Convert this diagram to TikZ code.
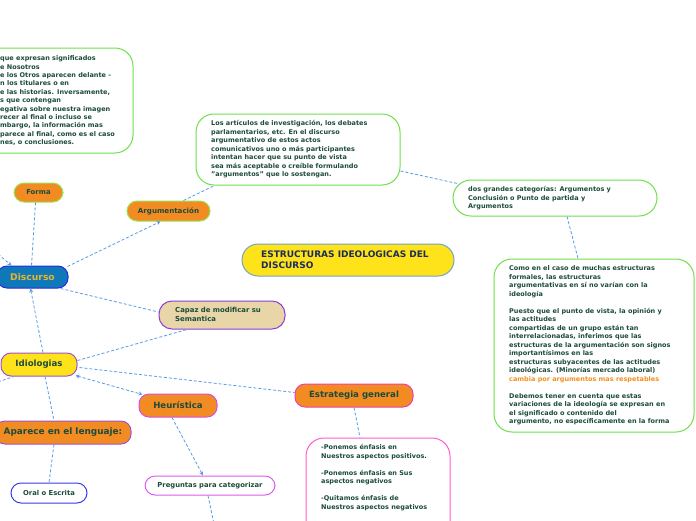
\documentclass[tikz,border=0pt]{standalone}
\usepackage{fontspec}
\setmainfont{DejaVu Sans}
\usetikzlibrary{calc,arrows.meta}
\definecolor{lnkc}{HTML}{5A9BE6}
\definecolor{txtc}{HTML}{1B4B3B}
\definecolor{orng}{HTML}{F28C22}
\definecolor{grn}{HTML}{6FE04A}
\definecolor{lgrn}{HTML}{9BE255}
\definecolor{yel}{HTML}{FFE31A}
\definecolor{dblue}{HTML}{0E78B8}
\definecolor{dbord}{HTML}{2A2AE0}
\definecolor{gold}{HTML}{E8B52E}
\definecolor{navy}{HTML}{1C2C5C}
\definecolor{sky}{HTML}{6FA3CF}
\definecolor{tan}{HTML}{E8D5A8}
\definecolor{purp}{HTML}{8A3DDB}
\definecolor{mauve}{HTML}{A052D0}
\definecolor{magen}{HTML}{D24FE0}
\definecolor{pink}{HTML}{F03DB0}
\definecolor{blu}{HTML}{3A3AEE}
\definecolor{lmag}{HTML}{DD5CF0}
\definecolor{lpink}{HTML}{FF5CCF}
\definecolor{orangetxt}{HTML}{F39020}
\tikzset{
  lnk/.style={draw=lnkc, dash pattern=on 3pt off 2pt, line width=0.8pt},
  tipend/.style={-{Stealth[length=4pt,width=4pt]}},
  tipboth/.style={{Stealth[length=4pt,width=4pt]}-{Stealth[length=4pt,width=4pt]}},
  pill/.style={rounded corners=10pt, draw, line width=1pt, inner sep=0pt, text=txtc, font=\bfseries\fontsize{8.6}{10}\selectfont},
  tbox/.style={rounded corners=18pt, draw, fill=white, line width=1pt, inner sep=0pt},
  btxt/.style={anchor=north west, inner sep=0pt, align=left, text=txtc, font=\bfseries\fontsize{6.5}{8.5}\selectfont},
}
\begin{document}
\begin{tikzpicture}[x=1pt,y=-1pt]
\useasboundingbox (0,0) rectangle (696,520);
\clip (0,0) rectangle (696,520);
\fill[white] (0,0) rectangle (696,520);

% text boxes
\node[tbox, draw=grn, minimum width=153, minimum height=105] (tl) at (56.5,100.5) {};
\node[btxt, font=\bfseries\fontsize{6.5}{8.4}\selectfont] (tlt) at (0,55.5) {que expresan significados\\e Nosotros\\e los Otros aparecen delante -\\n los titulares o en\\e las historias. Inversamente,\\s que contengan\\egativa sobre nuestra imagen\\recer al final o incluso se\\mbargo, la información mas\\parece al final, como es el caso\\nes, o conclusiones.};

\node[tbox, draw=grn, minimum width=204, minimum height=71] (art) at (298,149.5) {};
\node[btxt] (artt) at (211,120.5) {Los artículos de investigación, los debates\\parlamentarios, etc. En el discurso\\argumentativo de estos actos\\comunicativos uno o más participantes\\intentan hacer que su punto de vista\\sea más aceptable o creíble formulando\\"argumentos" que lo sostengan.};

\node[tbox, draw=grn, minimum width=204, minimum height=36] (dos) at (555,198) {};
\node[btxt] (dost) at (468,186.5) {dos grandes categorías: Argumentos y\\Conclusión o Punto de partida y\\Argumentos};

\node[tbox, draw=grn, minimum width=200, minimum height=173] (como) at (594,345.5) {};
\node[btxt] (comot) at (509,265.5) {Como en el caso de muchas estructuras\\formales, las estructuras\\argumentativas en sí no varían con la\\ideología\\[8.5pt]Puesto que el punto de vista, la opinión y\\las actitudes\\compartidas de un grupo están tan\\interrelacionadas, inferimos que las\\estructuras de la argumentación son signos\\importantísimos en las\\estructuras subyacentes de las actitudes\\ideológicas. (Minorías mercado laboral)\\\textcolor{orangetxt}{cambia por argumentos mas respetables}\\[8.5pt]Debemos tener en cuenta que estas\\variaciones de la ideología se expresan en\\el significado o contenido del\\argumento, no específicamente en la forma};

\node[tbox, draw=lpink, minimum width=144, minimum height=102] (pon) at (378,489) {};
\node[btxt] (pont) at (321,444.5) {-Ponemos énfasis en\\Nuestros aspectos positivos.\\[8.5pt]-Ponemos énfasis en Sus\\aspectos negativos\\[8.5pt]-Quitamos énfasis de\\Nuestros aspectos negativos};

% title
\node[rounded corners=16pt, draw=sky, fill=yel, line width=1pt, minimum width=212, minimum height=32] (tit) at (348,260) {};
\node[btxt, text=navy, font=\bfseries\fontsize{9}{11}\selectfont] (titt) at (261,251) {ESTRUCTURAS IDEOLOGICAS DEL\\DISCURSO};

% pills
\node[pill, fill=orng, draw=lgrn, minimum width=49, minimum height=19, font=\bfseries\fontsize{6.9}{8}\selectfont] (forma) at (38.5,192.5) {Forma};
\node[pill, fill=orng, draw=lgrn, minimum width=83, minimum height=20, font=\bfseries\fontsize{7.1}{8}\selectfont] (arg) at (168.5,211) {Argumentación};
\node[pill, fill=dblue, draw=dbord, text=gold, minimum width=71, minimum height=22, font=\bfseries\fontsize{9.2}{10}\selectfont] (disc) at (32.5,277) {Discurso};
\node[pill, fill=tan, draw=purp, rounded corners=13pt, minimum width=126, minimum height=28] (cap) at (222,315) {};
\node[btxt, font=\bfseries\fontsize{6.9}{9}\selectfont] (capt) at (175,307) {Capaz de modificar su\\Semantica};
\node[pill, fill=yel, draw=mauve, minimum width=76, minimum height=23] (idi) at (39,364.5) {Idiologias};
\node[pill, fill=orng, draw=magen, minimum width=78, minimum height=23] (heu) at (178,405.5) {Heurística};
\node[pill, fill=orng, draw=pink, minimum width=118, minimum height=23] (est) at (354,395.5) {Estrategia general};
\node[pill, fill=orng, draw=mauve, minimum width=136, minimum height=23, font=\bfseries\fontsize{8.9}{10}\selectfont] (apa) at (63,432.5) {Aparece en el lenguaje:};
\node[pill, fill=white, draw=blu, minimum width=76, minimum height=20, font=\bfseries\fontsize{6.8}{8}\selectfont] (oral) at (49,493) {Oral o Escrita};
\node[pill, fill=white, draw=lmag, minimum width=130, minimum height=19, font=\bfseries\fontsize{6.8}{8}\selectfont] (preg) at (210,485.5) {Preguntas para categorizar};

% free ends
\coordinate (lf1) at (-2,254);
\coordinate (lf2) at (-2,382);
\coordinate (pb) at (214,524);

% connectors
\draw[lnk] ($(forma.north)+(-6,0)$) -- ($(forma.north)+(-6,0)$ |- tl.south);
\draw[lnk] ($(forma.south)+(-3,0)$) -- ($(disc.north)+(-1,0)$);
\draw[lnk, tipend] ($(disc.north east)+(-1,1)$) -- ($(arg.south)+(-8,0)$);
\draw[lnk] ($(arg.north)+(15,0)$) -- ($(art.south west)+(19,0)$);
\draw[lnk] ($(art.east)+(0,21.5)$) -- ($(dos.north west)+(5,4)$);
\draw[lnk] ($(dos.south)+(12,0)$) -- ($(como.north)+(-16,0)$);
\draw[lnk, tipend] (lf1) -- ($(disc.north west)+(15,0)$);
\draw[lnk] ($(disc.south east)+(-8,0)$) -- ($(cap.west)+(0,-3)$);
\draw[lnk, tipend] ($(idi.north)+(4,0)$) -- ($(disc.south)+(-2,0)$);
\draw[lnk] ($(idi.east)+(0,-4)$) -- ($(cap.south)+(-35,0)$);
\draw[lnk] ($(idi.east)+(2,3)$) -- ($(est.west)+(0,-3)$);
\draw[lnk, tipboth] ($(idi.south east)+(-2,-1)$) -- ($(heu.north west)+(4,1)$);
\draw[lnk] (lf2) -- ($(idi.south west)+(13,0)$);
\draw[lnk] ($(idi.south)+(6,0)$) -- ($(apa.north)+(-9,0)$);
\draw[lnk] ($(apa.south)+(-9,0)$) -- (oral.north);
\draw[lnk, tipend] ($(heu.south)+(-6,0)$) -- ($(preg.north)+(-7,0)$);
\draw[lnk] ($(preg.south)+(-2,0)$) -- (pb);
\draw[lnk] (est.south) -- ($(pon.north)+(-18,0)$);
\end{tikzpicture}
\end{document}
